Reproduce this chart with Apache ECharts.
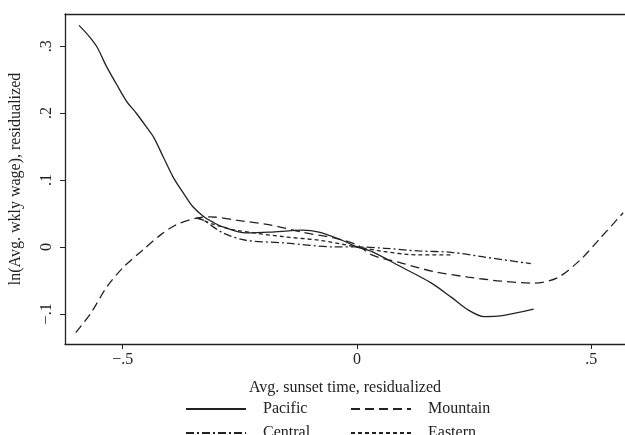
<!DOCTYPE html>
<html lang="en">
    <head>
        <meta charset="UTF-8">
        <script src="https://cdn.jsdelivr.net/npm/echarts@6.0.0/dist/echarts.min.js"></script>
        <title>Sunset time and wages</title>
        <style>
            html, body { margin: 0; padding: 0; background: #fff; }
        </style>
    </head>
    <body>
        <div id="chart-container" style="width: 625px; height: 435px;"></div>

        <script>
            // curves as [x, y] pairs
            const pacific = [
                [-0.593, 0.331], [-0.572, 0.315], [-0.555, 0.299], [-0.534, 0.269], [-0.513, 0.243],
                [-0.492, 0.218], [-0.470, 0.199], [-0.449, 0.179], [-0.434, 0.164], [-0.413, 0.134],
                [-0.392, 0.104], [-0.369, 0.079], [-0.350, 0.060], [-0.328, 0.046], [-0.307, 0.037],
                [-0.286, 0.030], [-0.237, 0.021], [-0.186, 0.022], [-0.117, 0.025], [-0.081, 0.022],
                [-0.032, 0.010], [0, 0], [0.032, -0.007], [0.095, -0.030], [0.159, -0.054],
                [0.201, -0.075], [0.237, -0.094], [0.271, -0.104], [0.307, -0.103], [0.377, -0.093]
            ];
            const mountain = [
                [-0.600, -0.128], [-0.568, -0.099], [-0.534, -0.060], [-0.498, -0.030], [-0.456, -0.004],
                [-0.419, 0.018], [-0.386, 0.033], [-0.343, 0.043], [-0.314, 0.045], [-0.258, 0.040],
                [-0.186, 0.033], [-0.117, 0.022], [-0.047, 0.013], [0, 0.003], [0.032, -0.012],
                [0.095, -0.024], [0.165, -0.037], [0.237, -0.045], [0.307, -0.051], [0.377, -0.054],
                [0.428, -0.046], [0.477, -0.019], [0.519, 0.013], [0.568, 0.051]
            ];
            const central = [
                [-0.343, 0.043], [-0.328, 0.040], [-0.286, 0.021], [-0.237, 0.010], [-0.153, 0.006],
                [-0.047, 0.000], [0, 0], [0.059, -0.002], [0.131, -0.006], [0.201, -0.008],
                [0.271, -0.015], [0.371, -0.025]
            ];
            const eastern = [
                [-0.339, 0.043], [-0.307, 0.034], [-0.258, 0.025], [-0.153, 0.015], [-0.081, 0.010],
                [0, 0], [0.059, -0.007], [0.131, -0.012], [0.201, -0.012]
            ];

            const xTicks = [-0.5, 0, 0.5];
            const yTicks = [-0.1, 0, 0.1, 0.2, 0.3];
            const seriesNames = ['Pacific', 'Mountain', 'Central', 'Eastern'];

            // stata style labels: ".5", "-.1", "0"
            function stataLabel(v) {
                if (Math.abs(v) < 1e-9) return '0';
                let s = String(Math.round(Math.abs(v) * 10) / 10).replace(/^0/, '');
                return (v < 0 ? '\u2212' : '') + s;
            }

            const ink = '#222';
            const font = 'Liberation Serif';
            const axisLine = { show: true, onZero: false, lineStyle: { color: ink, width: 1.3 } };

            function line(name, data, type) {
                return {
                    name: name,
                    type: 'line',
                    data: data,
                    smooth: 0.3,
                    symbol: 'none',
                    lineStyle: { color: ink, width: 1.3, type: type },
                    itemStyle: { color: ink }
                };
            }

            // legend column, line sample then label
            function legendColumn(names, left) {
                return {
                    data: names,
                    orient: 'vertical',
                    left: left, top: 401, height: 60, padding: 0,
                    itemWidth: 60, itemHeight: 14, itemGap: 8,
                    itemStyle: { opacity: 0 },
                    textStyle: { color: ink, fontFamily: font, fontSize: 16, padding: [0, 0, 0, 12] }
                };
            }

            const chart = echarts.init(document.getElementById('chart-container'));
            const options = {
                animation: false,
                grid: { left: 61, top: 14, right: 0, bottom: 91 },
                xAxis: [
                    {
                        type: 'value',
                        min: -0.623, max: 0.572,
                        splitLine: { show: false },
                        axisLine: axisLine,
                        axisTick: { show: true, customValues: xTicks, length: 5, lineStyle: { color: ink } },
                        axisLabel: {
                            customValues: xTicks, formatter: stataLabel, margin: 8,
                            color: ink, fontFamily: font, fontSize: 16
                        },
                        name: 'Avg. sunset time, residualized',
                        nameLocation: 'middle',
                        nameGap: 36,
                        nameTextStyle: { color: ink, fontFamily: font, fontSize: 16 }
                    },
                    {
                        // top frame line only
                        type: 'value', position: 'top',
                        min: -0.623, max: 0.572,
                        splitLine: { show: false },
                        axisLine: axisLine,
                        axisTick: { show: false },
                        axisLabel: { show: false }
                    }
                ],
                yAxis: {
                    type: 'value',
                    min: -0.145, max: 0.348,
                    splitLine: { show: false },
                    axisLine: axisLine,
                    axisTick: { show: true, customValues: yTicks, length: 5, lineStyle: { color: ink } },
                    axisLabel: {
                        customValues: yTicks, formatter: stataLabel, rotate: 90, margin: 10,
                        color: ink, fontFamily: font, fontSize: 16
                    },
                    name: 'ln(Avg. wkly wage), residualized',
                    nameLocation: 'middle',
                    nameGap: 41,
                    nameTextStyle: { color: ink, fontFamily: font, fontSize: 16 }
                },
                legend: [
                    legendColumn([seriesNames[0], seriesNames[2]], 185),
                    legendColumn([seriesNames[1], seriesNames[3]], 350)
                ],
                series: [
                    line(seriesNames[0], pacific, 'solid'),
                    line(seriesNames[1], mountain, [9, 5]),
                    line(seriesNames[2], central, [8, 3, 2, 3]),
                    line(seriesNames[3], eastern, [4, 3])
                ]
            };
            chart.setOption(options);
        </script>
    </body>
</html>
